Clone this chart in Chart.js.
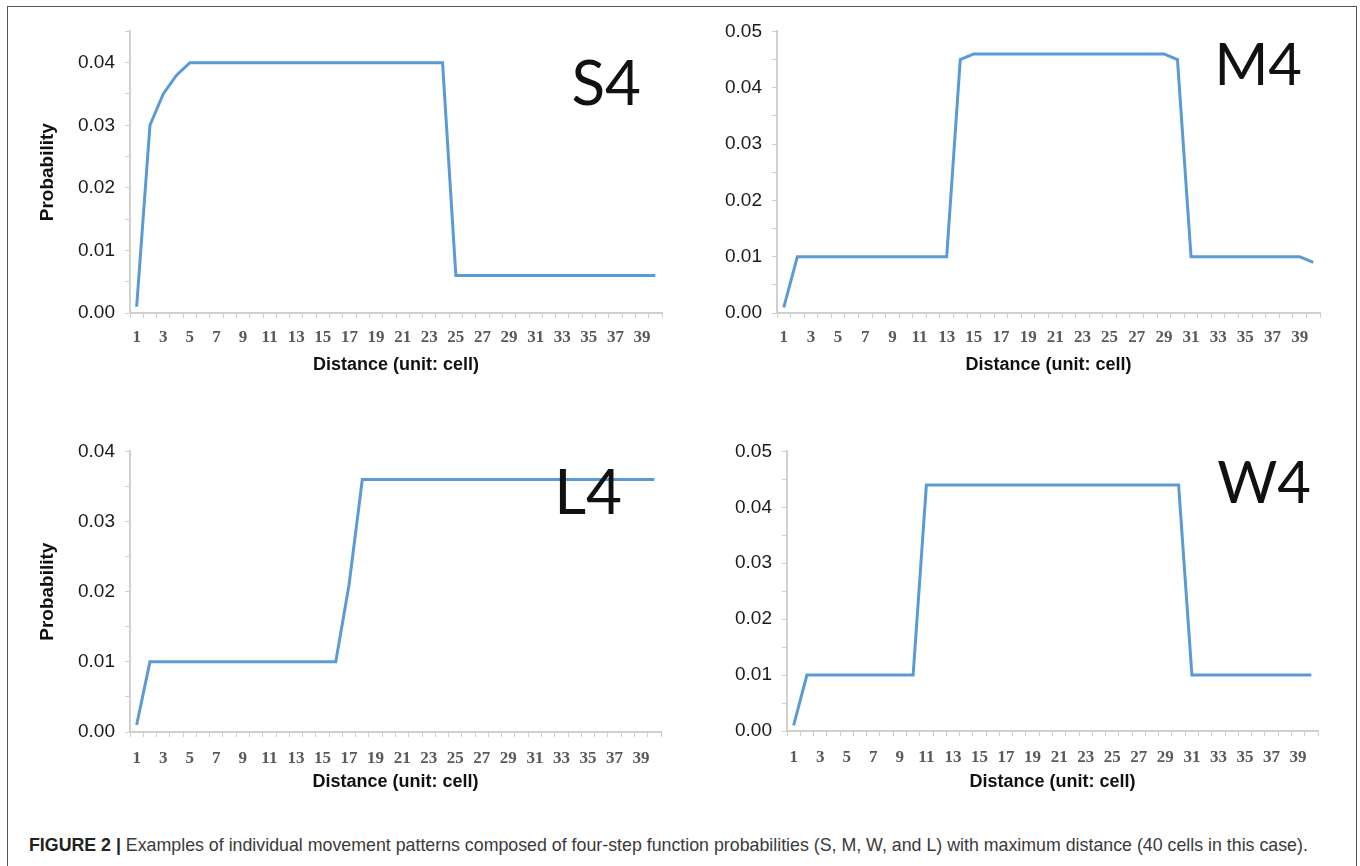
<!DOCTYPE html>
<html>
<head>
<meta charset="utf-8">
<script src="https://cdn.jsdelivr.net/npm/chart.js@4.4.0/dist/chart.umd.min.js"></script>
<style>
  html, body { margin: 0; padding: 0; background: #fff; }
  body { width: 1360px; height: 866px; position: relative; overflow: hidden; font-family: "Liberation Sans", Arial, sans-serif; }
  .frame { position: absolute; left: 7px; top: 6px; width: 1348px; height: 900px; border: 1px solid #555; }
  .box { position: absolute; }
  .caption { position: absolute; left: 29px; top: 835px; font-size: 17.8px; color: #3a3a3a; white-space: nowrap; }
  .caption b { color: #222; }
</style>
</head>
<body>
<div class="frame"></div>
<div class="box" style="left:10px;top:10px;width:680px;height:380px"><canvas id="graph1"></canvas></div>
<div class="box" style="left:690px;top:10px;width:660px;height:380px"><canvas id="graph2"></canvas></div>
<div class="box" style="left:10px;top:430px;width:680px;height:380px"><canvas id="graph3"></canvas></div>
<div class="box" style="left:690px;top:430px;width:660px;height:380px"><canvas id="graph4"></canvas></div>
<div class="caption"><b>FIGURE 2 |</b> Examples of individual movement patterns composed of four-step function probabilities (S, M, W, and L) with maximum distance (40 cells in this case).</div>

<script>
const distance = [1, 2, 3, 4, 5, 6, 7, 8, 9, 10, 11, 12, 13, 14, 15, 16, 17, 18, 19, 20,
  21, 22, 23, 24, 25, 26, 27, 28, 29, 30, 31, 32, 33, 34, 35, 36, 37, 38, 39, 40];

const s4 = [0.001, 0.030, 0.035, 0.038, 0.040, 0.040, 0.040, 0.040, 0.040, 0.040,
  0.040, 0.040, 0.040, 0.040, 0.040, 0.040, 0.040, 0.040, 0.040, 0.040,
  0.040, 0.040, 0.040, 0.040, 0.006, 0.006, 0.006, 0.006, 0.006, 0.006,
  0.006, 0.006, 0.006, 0.006, 0.006, 0.006, 0.006, 0.006, 0.006, 0.006];

const m4 = [0.001, 0.010, 0.010, 0.010, 0.010, 0.010, 0.010, 0.010, 0.010, 0.010,
  0.010, 0.010, 0.010, 0.045, 0.046, 0.046, 0.046, 0.046, 0.046, 0.046,
  0.046, 0.046, 0.046, 0.046, 0.046, 0.046, 0.046, 0.046, 0.046, 0.045,
  0.010, 0.010, 0.010, 0.010, 0.010, 0.010, 0.010, 0.010, 0.010, 0.009];

const l4 = [0.001, 0.010, 0.010, 0.010, 0.010, 0.010, 0.010, 0.010, 0.010, 0.010,
  0.010, 0.010, 0.010, 0.010, 0.010, 0.010, 0.021, 0.036, 0.036, 0.036,
  0.036, 0.036, 0.036, 0.036, 0.036, 0.036, 0.036, 0.036, 0.036, 0.036,
  0.036, 0.036, 0.036, 0.036, 0.036, 0.036, 0.036, 0.036, 0.036, 0.036];

const w4 = [0.001, 0.010, 0.010, 0.010, 0.010, 0.010, 0.010, 0.010, 0.010, 0.010,
  0.044, 0.044, 0.044, 0.044, 0.044, 0.044, 0.044, 0.044, 0.044, 0.044,
  0.044, 0.044, 0.044, 0.044, 0.044, 0.044, 0.044, 0.044, 0.044, 0.044,
  0.010, 0.010, 0.010, 0.010, 0.010, 0.010, 0.010, 0.010, 0.010, 0.010];

Chart.defaults.font.family = '"Liberation Sans", Arial, sans-serif';
Chart.defaults.animation = false;

// big pattern name drawn in the upper right corner of each panel
const cornerLabel = {
  id: 'cornerLabel',
  afterDraw(chart, args, opts) {
    const ctx = chart.ctx;
    ctx.save();
    ctx.font = opts.size + 'px Lato';
    ctx.fillStyle = '#111';
    ctx.textAlign = 'right';
    ctx.textBaseline = 'alphabetic';
    ctx.fillText(opts.text, opts.x, opts.y);
    ctx.restore();
  }
};

function makeChart(id, values, cfg) {
  return new Chart(document.getElementById(id).getContext('2d'), {
    type: 'line',
    data: {
      labels: distance,
      datasets: [{
        data: values,
        borderColor: '#5b9bd5',
        backgroundColor: '#5b9bd5',
        borderWidth: 3,
        pointRadius: 0,
        tension: 0
      }]
    },
    options: {
      responsive: true,
      maintainAspectRatio: false,
      layout: { padding: { left: 0, top: cfg.top, right: cfg.right, bottom: 0 } },
      plugins: {
        legend: { display: false },
        tooltip: { enabled: false },
        cornerLabel: { text: cfg.name, x: cfg.nameX, y: cfg.nameY, size: cfg.nameSize }
      },
      scales: {
        x: {
          type: 'category',
          offset: true,
          afterFit: (scale) => { scale.height = cfg.xHeight; },
          grid: { offset: true, drawOnChartArea: false, tickLength: 5, color: '#d0d0d0' },
          border: { color: '#d0d0d0', width: 2 },
          ticks: {
            autoSkip: false,
            maxRotation: 0,
            padding: cfg.xPad,
            color: '#595959',
            font: { family: '"Liberation Serif", serif', size: 17, weight: 'bold' },
            callback: (v, i) => (i % 2 === 0 ? distance[i] : '')
          },
          title: {
            display: true,
            text: 'Distance (unit: cell)',
            color: '#111',
            font: { size: 18, weight: 'bold' },
            padding: { top: 0, bottom: cfg.titlePad }
          }
        },
        y: {
          min: 0,
          max: cfg.max,
          afterFit: (scale) => { scale.width = cfg.yWidth; },
          grid: { drawOnChartArea: false, tickLength: 5, color: '#d0d0d0' },
          border: { color: '#d0d0d0', width: 2 },
          ticks: {
            stepSize: 0.005,
            padding: 10,
            color: '#1a1a1a',
            font: { size: 19 },
            callback: (v) => {
              const k = Math.round(v * 1000);
              return k % 10 === 0 ? (k / 1000).toFixed(2) : '';
            }
          },
          title: {
            display: cfg.yTitle,
            text: 'Probability',
            color: '#111',
            font: { size: 19, weight: 'bold' },
            padding: { top: 26, bottom: 0 }
          }
        }
      }
    },
    plugins: [cornerLabel]
  });
}

const graph1 = makeChart('graph1', s4, {
  name: 'S4', nameX: 631, nameY: 95, nameSize: 62, max: 0.045, top: 17, right: 28,
  yWidth: 120, xHeight: 77, xPad: 9, titlePad: 14, yTitle: true
});
const graph2 = makeChart('graph2', m4, {
  name: 'M4', nameX: 612, nameY: 75, nameSize: 58, max: 0.05, top: 21, right: 30,
  yWidth: 87, xHeight: 77, xPad: 9, titlePad: 14, yTitle: false
});
const graph3 = makeChart('graph3', l4, {
  name: 'L4', nameX: 612, nameY: 84, nameSize: 62, max: 0.04, top: 16, right: 29,
  yWidth: 120, xHeight: 78, xPad: 11, titlePad: 17, yTitle: true
});
const graph4 = makeChart('graph4', w4, {
  name: 'W4', nameX: 621, nameY: 73, nameSize: 58, max: 0.05, top: 17, right: 32,
  yWidth: 97, xHeight: 79, xPad: 11, titlePad: 17, yTitle: false
});
</script>
</body>
</html>
